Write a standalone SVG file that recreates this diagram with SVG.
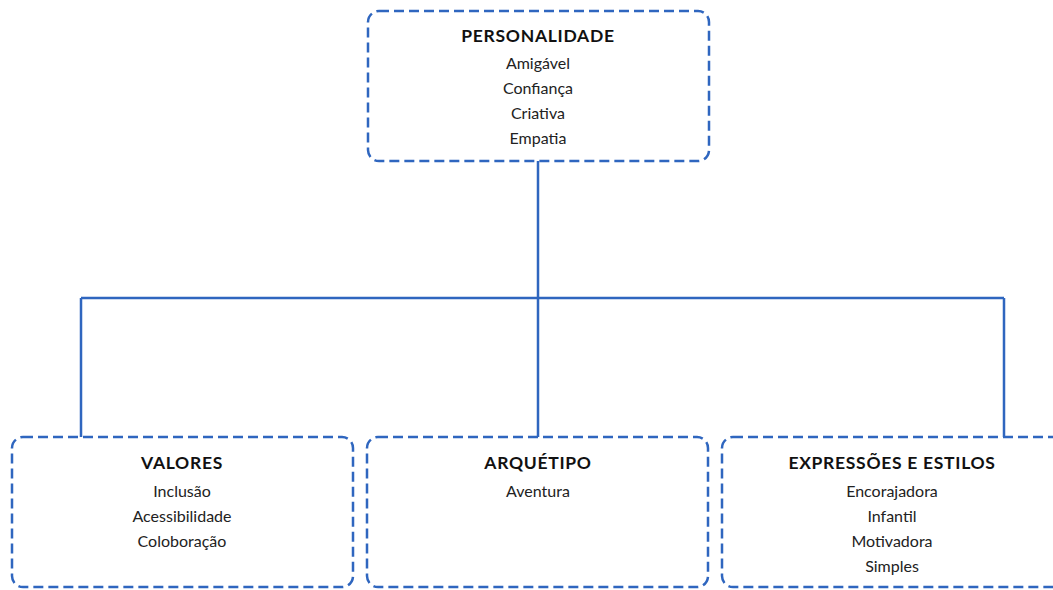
<svg xmlns="http://www.w3.org/2000/svg" width="1053" height="590" viewBox="0 0 1053 590">
<style>
.box{fill:#fff;stroke:#2F66BF;stroke-width:2.5;stroke-dasharray:10 5}
.conn{fill:none;stroke:#2F66BF;stroke-width:2.5}
.t{font-family:Lato,"Liberation Sans",sans-serif;font-size:17.5px;font-weight:bold;fill:#111;text-anchor:middle;letter-spacing:0.7px}
.i{font-family:Lato,"Liberation Sans",sans-serif;font-size:16px;fill:#222;text-anchor:middle}
</style>
<rect width="1053" height="590" fill="#fff"/>
<g id="connectors">
<path class="conn" d="M538 161V298M81 298H1004M81 298V437M538 298V437M1004 298V437"/>
</g>
<g id="personalidade">
<rect class="box" x="368" y="11" width="341" height="150" rx="11"/>
<text class="t" x="538" y="42">PERSONALIDADE</text>
<text class="i" x="538" y="69">Amigável</text>
<text class="i" x="538" y="94">Confiança</text>
<text class="i" x="538" y="119">Criativa</text>
<text class="i" x="538" y="144">Empatia</text>
</g>
<g id="valores">
<rect class="box" x="12" y="437" width="341" height="150" rx="11"/>
<text class="t" x="182" y="469">VALORES</text>
<text class="i" x="182" y="497">Inclusão</text>
<text class="i" x="182" y="522">Acessibilidade</text>
<text class="i" x="182" y="547">Coloboração</text>
</g>
<g id="arquetipo">
<rect class="box" x="367" y="437" width="341" height="150" rx="11"/>
<text class="t" x="538" y="469">ARQUÉTIPO</text>
<text class="i" x="538" y="497">Aventura</text>
</g>
<g id="expressoes">
<rect class="box" x="722" y="437" width="341" height="150" rx="11"/>
<text class="t" x="892" y="469">EXPRESSÕES E ESTILOS</text>
<text class="i" x="892" y="497">Encorajadora</text>
<text class="i" x="892" y="522">Infantil</text>
<text class="i" x="892" y="547">Motivadora</text>
<text class="i" x="892" y="572">Simples</text>
</g>
</svg>
